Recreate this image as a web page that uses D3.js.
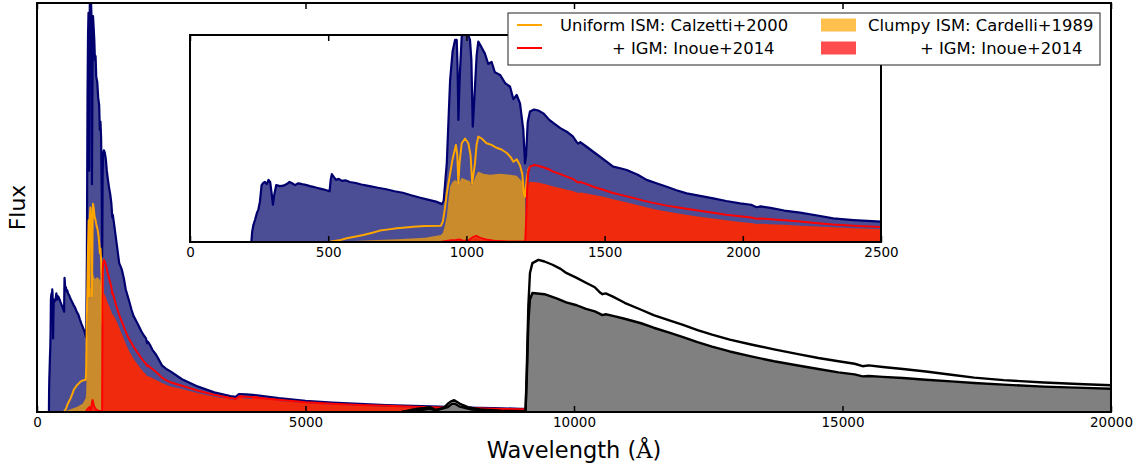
<!DOCTYPE html>
<html>
<head>
<meta charset="utf-8">
<script src="https://cdn.jsdelivr.net/npm/d3@7"></script>
<style>
  body { margin: 0; background: #fff; }
  svg { display: block; font-family: "DejaVu Sans", sans-serif; }
</style>
</head>
<body>
<div id="chart"></div>
<script>
// rest-frame spectra (Angstrom, flux normalised to the panel height)
const intrinsicWave = [91, 222, 225, 229, 236, 242, 247, 253, 259, 265, 271, 278, 284, 290, 295, 300, 305, 312, 325, 338, 350, 360, 368, 380, 390, 398, 410, 422, 434, 446, 458, 470, 482, 494, 505, 509, 513, 520, 528, 538, 550, 562, 578, 600, 620, 650, 680, 710, 740, 770, 800, 830, 860, 890, 912, 918, 924, 929, 935, 941, 950, 959, 965, 968, 971, 974, 977, 983, 989, 1001, 1013, 1018, 1023, 1027, 1031, 1037, 1043, 1055, 1067, 1079, 1091, 1103, 1122, 1140, 1158, 1170, 1182, 1194, 1206, 1212, 1216, 1222, 1230, 1245, 1260, 1280, 1300, 1314, 1340, 1363, 1385, 1398, 1404, 1412, 1430, 1459, 1500, 1531, 1560, 1580, 1620, 1652, 1690, 1725, 1760, 1797, 1850, 1893, 1940, 1990, 2030, 2050, 2065, 2100, 2150, 2207, 2270, 2327, 2400, 2500, 2700, 3000, 3300, 3600, 3700, 3760, 3900, 4100, 4500, 5000, 5500, 6000, 6500, 7000, 7500, 8000, 8500, 9000, 9100];
const intrinsicFlux = [0, 0, 0.05, 0.08, 0.11, 0.14, 0.155, 0.195, 0.275, 0.285, 0.29, 0.28, 0.30, 0.29, 0.24, 0.18, 0.23, 0.275, 0.27, 0.272, 0.28, 0.29, 0.285, 0.275, 0.283, 0.282, 0.278, 0.275, 0.27, 0.266, 0.262, 0.258, 0.254, 0.25, 0.245, 0.30, 0.328, 0.315, 0.30, 0.305, 0.295, 0.298, 0.29, 0.285, 0.278, 0.27, 0.262, 0.255, 0.245, 0.238, 0.226, 0.215, 0.205, 0.195, 0.183, 0.2, 0.3, 0.38, 0.58, 0.78, 0.92, 0.976, 0.976, 0.85, 0.59, 0.72, 0.83, 0.99, 1.03, 1.02, 0.976, 0.88, 0.557, 0.65, 0.75, 0.9, 0.968, 0.94, 0.91, 0.86, 0.87, 0.82, 0.807, 0.768, 0.75, 0.69, 0.71, 0.67, 0.54, 0.38, 0.42, 0.58, 0.63, 0.64, 0.635, 0.62, 0.59, 0.575, 0.55, 0.533, 0.51, 0.485, 0.475, 0.482, 0.465, 0.436, 0.395, 0.364, 0.355, 0.348, 0.325, 0.30, 0.283, 0.267, 0.25, 0.235, 0.222, 0.211, 0.198, 0.187, 0.18, 0.168, 0.172, 0.165, 0.152, 0.142, 0.128, 0.114, 0.106, 0.098, 0.08, 0.062, 0.048, 0.039, 0.037, 0.044, 0.043, 0.041, 0.034, 0.027, 0.023, 0.02, 0.017, 0.015, 0.013, 0.011, 0.0095, 0.008, 0.0078];

const uniformWave = [91, 500, 540, 567, 600, 627, 660, 687, 720, 748, 780, 808, 850, 908, 915, 922, 929, 941, 950, 962, 967, 971, 975, 983, 995, 1007, 1015, 1021, 1031, 1037, 1043, 1055, 1073, 1091, 1109, 1127, 1146, 1160, 1170, 1182, 1194, 1202, 1208, 1212, 1218, 1224, 1230];
const uniformFlux = [0, 0, 0.008, 0.018, 0.027, 0.034, 0.045, 0.055, 0.061, 0.066, 0.07, 0.074, 0.077, 0.079, 0.1, 0.16, 0.235, 0.33, 0.4, 0.469, 0.42, 0.283, 0.38, 0.477, 0.5, 0.477, 0.42, 0.283, 0.38, 0.47, 0.509, 0.5, 0.477, 0.469, 0.455, 0.447, 0.43, 0.41, 0.388, 0.40, 0.37, 0.33, 0.235, 0.219, 0.3, 0.35, 0.364];

const clumpyWave = [91, 480, 550, 650, 750, 850, 908, 915, 922, 929, 935, 941, 950, 959, 965, 971, 977, 983, 1001, 1013, 1019, 1025, 1034, 1043, 1061, 1085, 1122, 1158, 1182, 1200, 1206, 1212, 1216];
const clumpyFlux = [0, 0, 0.003, 0.008, 0.013, 0.02, 0.034, 0.045, 0.08, 0.122, 0.2, 0.267, 0.29, 0.30, 0.295, 0.275, 0.295, 0.31, 0.30, 0.295, 0.275, 0.285, 0.32, 0.34, 0.33, 0.325, 0.33, 0.325, 0.32, 0.295, 0.267, 0.22, 0];

const uniformIgmWave = [91, 905, 915, 929, 945, 962, 975, 990, 1010, 1020, 1028, 1036, 1050, 1070, 1100, 1150, 1213, 1216, 1220, 1224, 1230, 1245, 1260, 1280, 1300, 1314, 1340, 1363, 1385, 1398, 1404, 1412, 1430, 1459, 1500, 1531, 1570, 1604, 1640, 1676, 1720, 1773, 1830, 1893, 1940, 1990, 2030, 2050, 2065, 2100, 2150, 2207, 2270, 2327, 2400, 2500, 2600, 2700, 3000, 3300, 3600, 3700, 3760, 3900, 4100, 4500, 5000, 5500, 6000, 6500, 7000, 7500, 8000, 8500, 9000, 9100];
const uniformIgmFlux = [0, 0, 0.002, 0.005, 0.008, 0.01, 0.012, 0.005, 0.01, 0.02, 0.026, 0.029, 0.02, 0.012, 0.006, 0.003, 0.002, 0.1, 0.26, 0.34, 0.364, 0.372, 0.368, 0.36, 0.35, 0.34, 0.328, 0.316, 0.305, 0.292, 0.288, 0.29, 0.282, 0.267, 0.25, 0.237, 0.224, 0.213, 0.2, 0.189, 0.177, 0.165, 0.153, 0.141, 0.132, 0.124, 0.118, 0.112, 0.114, 0.11, 0.105, 0.099, 0.091, 0.084, 0.078, 0.072, 0.068, 0.064, 0.052, 0.042, 0.034, 0.032, 0.038, 0.037, 0.035, 0.030, 0.024, 0.02, 0.017, 0.015, 0.013, 0.011, 0.0095, 0.008, 0.007, 0.0068];

const clumpyIgmWave = [91, 905, 929, 962, 975, 990, 1020, 1030, 1038, 1050, 1080, 1150, 1213, 1216, 1220, 1224, 1230, 1260, 1290, 1314, 1340, 1363, 1385, 1398, 1404, 1412, 1430, 1459, 1500, 1531, 1570, 1604, 1640, 1676, 1720, 1773, 1830, 1893, 1940, 1990, 2030, 2050, 2065, 2100, 2150, 2207, 2270, 2327, 2400, 2500, 2600, 2700, 3000, 3300, 3500, 3540, 3580, 3700, 3760, 3800, 3840, 3900, 4000, 4040, 4300, 4340, 4500, 5000, 5500, 6000, 6500, 7000, 7500, 8000, 8500, 9000, 9100];
const clumpyIgmFlux = [0, 0, 0.002, 0.006, 0.008, 0.004, 0.012, 0.02, 0.02, 0.013, 0.006, 0.002, 0.002, 0.08, 0.22, 0.275, 0.291, 0.288, 0.278, 0.268, 0.261, 0.252, 0.246, 0.24, 0.237, 0.239, 0.235, 0.228, 0.217, 0.206, 0.194, 0.183, 0.171, 0.16, 0.148, 0.136, 0.124, 0.113, 0.105, 0.097, 0.092, 0.087, 0.088, 0.086, 0.083, 0.079, 0.075, 0.071, 0.067, 0.062, 0.059, 0.056, 0.046, 0.037, 0.033, 0.043, 0.031, 0.029, 0.034, 0.047, 0.033, 0.033, 0.032, 0.042, 0.03, 0.038, 0.027, 0.022, 0.018, 0.015, 0.013, 0.011, 0.0095, 0.008, 0.007, 0.006, 0.006];

// the same source seen at this redshift fills the right part of the main panel
const redshift = 6.5;
const observedFrom = 890;

const mainTicks = [0, 5000, 10000, 15000, 20000];
const insetTicks = [0, 500, 1000, 1500, 2000, 2500];
const legendItems = [
  {label: 'Uniform ISM: Calzetti+2000', kind: 'line', color: '#ffa500', col: 0, row: 0, textX: 560},
  {label: '+ IGM: Inoue+2014', kind: 'line', color: '#ff0000', col: 0, row: 1, textX: 612},
  {label: 'Clumpy ISM: Cardelli+1989', kind: 'patch', color: '#ffc04d', col: 1, row: 0, textX: 868},
  {label: '+ IGM: Inoue+2014', kind: 'patch', color: '#ff4d4d', col: 1, row: 1, textX: 920},
];

const width = 1144;
const height = 468;
const mainBox = {left: 37, right: 1111, top: 3, bottom: 412};
const insetBox = {left: 190, right: 881, top: 35, bottom: 242};
const colors = {
  navyLine: '#00006e',
  navyFill: '#4b4e94',
  clumpyFill: '#c98b2c',
  clumpyIgmFill: '#ef2a0d',
  uniformLine: '#ffa500',
  uniformIgmLine: '#ff0000',
  observedFill: '#808080',
};

const zip = (wave, flux) => wave.map((w, i) => ({w, f: flux[i]}));
const intrinsic = zip(intrinsicWave, intrinsicFlux);
const uniform = zip(uniformWave, uniformFlux);
const clumpy = zip(clumpyWave, clumpyFlux);
const uniformIgm = zip(uniformIgmWave, uniformIgmFlux);
const clumpyIgm = zip(clumpyIgmWave, clumpyIgmFlux);
const shift = d => ({w: d.w * (1 + redshift), f: d.f});
const observedUpper = uniformIgm.filter(d => d.w >= observedFrom).map(shift);
const observedLower = clumpyIgm.filter(d => d.w >= observedFrom).map(shift);

const svg = d3.select('#chart')
  .append('svg')
  .attr('width', width)
  .attr('height', height);

function panel(box, xDomain, ticks, id){
  const x = d3.scaleLinear().domain(xDomain).range([box.left, box.right]);
  const y = d3.scaleLinear().domain([0, 1]).range([box.bottom, box.top]);
  const g = svg.append('g').attr('class', id);
  g.append('rect')
    .attr('x', box.left).attr('y', box.top)
    .attr('width', box.right - box.left).attr('height', box.bottom - box.top)
    .attr('fill', '#fff');
  g.append('clipPath').attr('id', `clip-${id}`)
    .append('rect')
    .attr('x', box.left).attr('y', box.top)
    .attr('width', box.right - box.left).attr('height', box.bottom - box.top);
  const plot = g.append('g').attr('clip-path', `url(#clip-${id})`);
  return {x, y, g, plot, box, ticks};
}

function drawSpectra(p){
  const {x, y, plot} = p;
  const area = d3.area().x(d => x(d.w)).y0(y(0)).y1(d => y(d.f));
  const line = d3.line().x(d => x(d.w)).y(d => y(d.f));
  plot.append('path').datum(intrinsic).attr('d', area).attr('fill', colors.navyFill);
  plot.append('path').datum(clumpy).attr('d', area).attr('fill', colors.clumpyFill);
  plot.append('path').datum(clumpyIgm).attr('d', area).attr('fill', colors.clumpyIgmFill);
  plot.append('path').datum(intrinsic).attr('d', line)
    .attr('fill', 'none').attr('stroke', colors.navyLine).attr('stroke-width', 2.2)
    .attr('stroke-linejoin', 'round');
  plot.append('path').datum(uniform).attr('d', line)
    .attr('fill', 'none').attr('stroke', colors.uniformLine).attr('stroke-width', 2)
    .attr('stroke-linejoin', 'round');
  plot.append('path').datum(uniformIgm).attr('d', line)
    .attr('fill', 'none').attr('stroke', colors.uniformIgmLine).attr('stroke-width', 2)
    .attr('stroke-linejoin', 'round');
}

function drawObserved(p){
  const {x, y, plot} = p;
  const area = d3.area().x(d => x(d.w)).y0(y(0)).y1(d => y(d.f));
  const line = d3.line().x(d => x(d.w)).y(d => y(d.f));
  plot.append('path').datum(observedLower).attr('d', area).attr('fill', colors.observedFill);
  [observedLower, observedUpper].forEach(data => {
    plot.append('path').datum(data).attr('d', line)
      .attr('fill', 'none').attr('stroke', '#000').attr('stroke-width', 2.4)
      .attr('stroke-linejoin', 'round');
  });
}

function drawFrame(p){
  const {x, g, box, ticks} = p;
  const bottom = d3.axisBottom(x).tickValues(ticks).tickSize(-6).tickPadding(5)
    .tickFormat(d3.format('d'));
  const top = d3.axisTop(x).tickValues(ticks).tickSize(-6).tickFormat('');
  const style = sel => {
    sel.select('.domain').remove();
    sel.selectAll('.tick line').attr('stroke', '#000').attr('stroke-width', 1.5);
    sel.selectAll('.tick text')
      .attr('fill', '#000')
      .style('font-size', '13.5px')
      .style('font-family', '"DejaVu Sans", sans-serif');
  };
  g.append('g').attr('transform', `translate(0,${box.bottom})`).call(bottom).call(style);
  g.append('g').attr('transform', `translate(0,${box.top})`).call(top).call(style);
  g.append('rect')
    .attr('x', box.left).attr('y', box.top)
    .attr('width', box.right - box.left).attr('height', box.bottom - box.top)
    .attr('fill', 'none').attr('stroke', '#000').attr('stroke-width', 2);
}

// main panel: rest frame on the left, redshifted copy on the right
const main = panel(mainBox, [0, 20000], mainTicks, 'main');
drawSpectra(main);
drawObserved(main);
drawFrame(main);

// inset zoom on the far-UV part
const inset = panel(insetBox, [0, 2500], insetTicks, 'inset');
drawSpectra(inset);
drawFrame(inset);

// legend
const legend = svg.append('g').attr('class', 'legend');
legend.append('rect')
  .attr('x', 508).attr('y', 13).attr('width', 592).attr('height', 52)
  .attr('fill', '#fff').attr('stroke', '#222').attr('stroke-width', 1);
const rowY = [25, 48];
const colX = [517, 821];
legendItems.forEach(item => {
  const cy = rowY[item.row];
  if (item.kind === 'line'){
    legend.append('line')
      .attr('x1', colX[item.col]).attr('x2', colX[item.col] + 25)
      .attr('y1', cy).attr('y2', cy)
      .attr('stroke', item.color).attr('stroke-width', 2);
  } else {
    legend.append('rect')
      .attr('x', colX[item.col]).attr('y', cy - 6.5)
      .attr('width', 35).attr('height', 13)
      .attr('fill', item.color);
  }
  legend.append('text')
    .attr('x', item.textX).attr('y', cy).attr('dy', '0.36em')
    .style('font-size', '16.4px')
    .text(item.label);
});

// axis titles
const xTitle = svg.append('text')
  .attr('x', (mainBox.left + mainBox.right) / 2).attr('y', 458)
  .attr('text-anchor', 'middle')
  .style('font-size', '22.5px');
xTitle.append('tspan').text('Wavelength (');
xTitle.append('tspan').style('font-family', '"DejaVu Serif", serif').text('Å');
xTitle.append('tspan').text(')');

svg.append('text')
  .attr('transform', `translate(25,${(mainBox.top + mainBox.bottom) / 2}) rotate(-90)`)
  .attr('text-anchor', 'middle')
  .style('font-size', '22px')
  .text('Flux');
</script>
</body>
</html>
